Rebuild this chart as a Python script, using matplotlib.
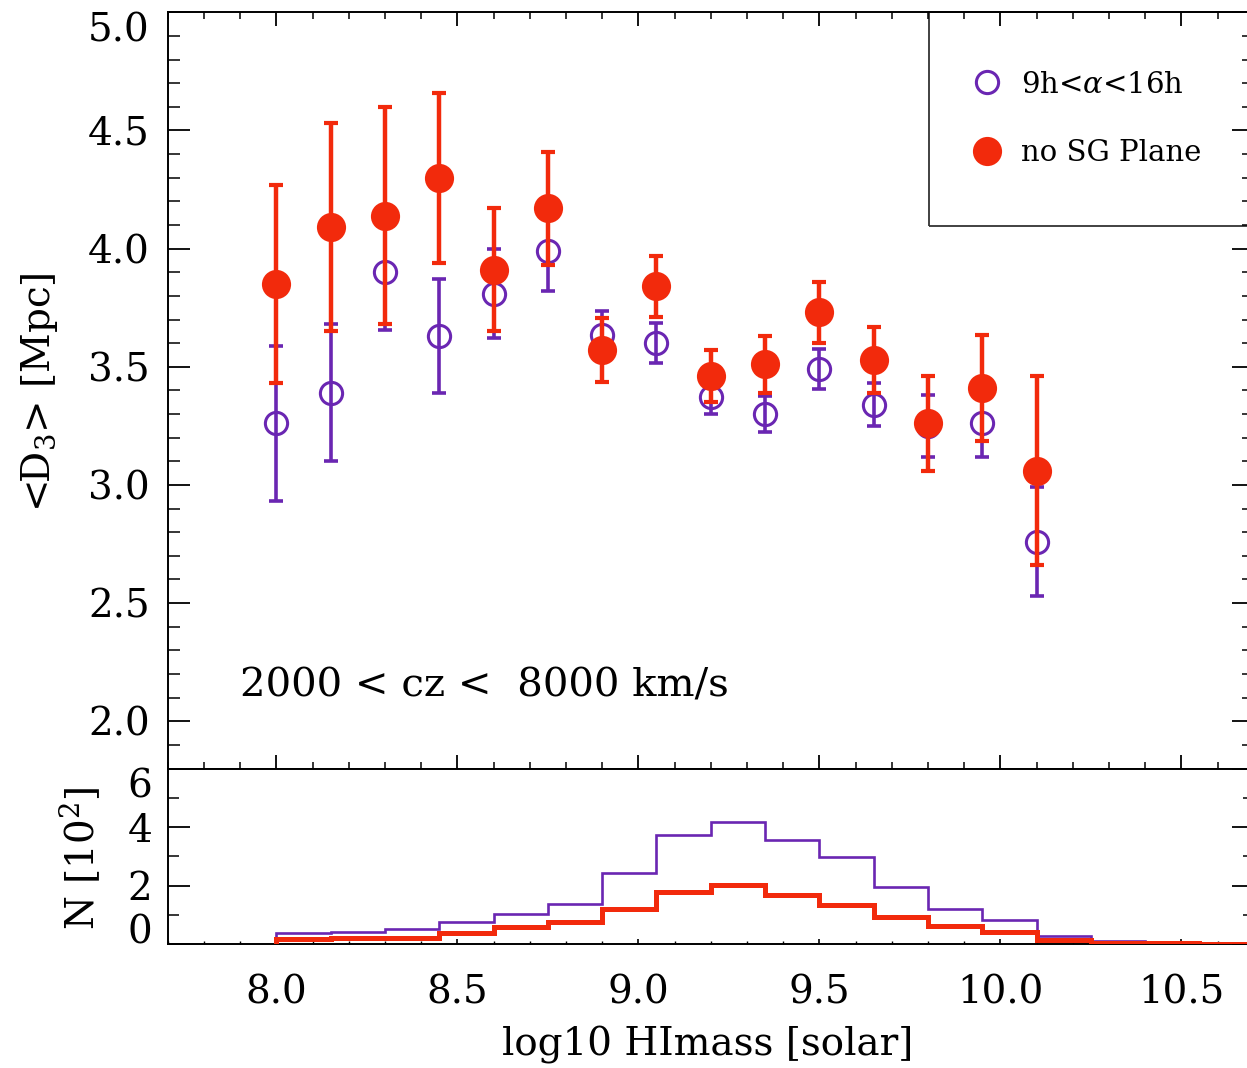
import matplotlib
matplotlib.use('Agg')
import matplotlib.pyplot as plt
from matplotlib.ticker import MultipleLocator
import numpy as np

plt.rcParams['font.family'] = ['DejaVu Serif']
plt.rcParams['mathtext.fontset'] = 'dejavuserif'

# ---------------- data ----------------
log_mass = [8.0, 8.15, 8.3, 8.45, 8.6, 8.75, 8.9, 9.05, 9.2, 9.35, 9.5, 9.65, 9.8, 9.95, 10.1]

ra_cut_d3 = [3.26, 3.39, 3.90, 3.63, 3.81, 3.99, 3.635, 3.60, 3.37, 3.30, 3.49, 3.34, 3.25, 3.26, 2.76]
ra_cut_err = [0.33, 0.29, 0.245, 0.24, 0.19, 0.17, 0.10, 0.085, 0.07, 0.075, 0.085, 0.09, 0.13, 0.14, 0.23]

nosg_d3 = [3.85, 4.09, 4.14, 4.30, 3.91, 4.17, 3.57, 3.84, 3.46, 3.51, 3.73, 3.53, 3.26, 3.41, 3.06]
nosg_err = [0.42, 0.44, 0.46, 0.36, 0.26, 0.24, 0.135, 0.13, 0.11, 0.12, 0.13, 0.14, 0.20, 0.225, 0.40]

hist_edges = [8.0, 8.15, 8.3, 8.45, 8.6, 8.75, 8.9, 9.05, 9.2, 9.35, 9.5, 9.65,
              9.8, 9.95, 10.1, 10.25, 10.4, 10.55, 10.7]
ra_cut_counts = [0.36, 0.42, 0.51, 0.76, 1.04, 1.38, 2.43, 3.72, 4.17, 3.56, 2.96, 1.94,
                 1.21, 0.81, 0.28, 0.10, 0.05, 0.02]
nosg_counts = [0.16, 0.19, 0.21, 0.38, 0.59, 0.76, 1.18, 1.77, 2.02, 1.69, 1.34, 0.93,
               0.61, 0.42, 0.14, 0.03, 0.02, 0.01]

label_ra = r'9h<$\alpha$<16h'
label_nosg = 'no SG Plane'
annotation = '2000 < cz <  8000 km/s'

PURPLE = '#6A26B2'
RED = '#F22A0C'

# ---------------- layout ----------------
W, H = 1247, 1068
fig = plt.figure(figsize=(W / 100, H / 100), dpi=100)


def rect(l, t, r, b):
    return [l / W, 1 - b / H, (r - l) / W, (b - t) / H]


ax = fig.add_axes(rect(167.7, 12.3, 1253.7, 768.5))
ax2 = fig.add_axes(rect(167.7, 768.5, 1253.7, 944.0))

# ---------------- top panel ----------------
ax.errorbar(log_mass, ra_cut_d3, yerr=ra_cut_err, fmt='none', ecolor=PURPLE,
            elinewidth=2.6, capsize=5.0, capthick=2.6, zorder=2)
h1, = ax.plot(log_mass, ra_cut_d3, 'o', ms=16, mfc='none', mec=PURPLE, mew=2.2,
              label=label_ra, zorder=3)
ax.errorbar(log_mass, nosg_d3, yerr=nosg_err, fmt='none', ecolor=RED,
            elinewidth=3.2, capsize=4.8, capthick=3.0, zorder=4)
h2, = ax.plot(log_mass, nosg_d3, 'o', ms=21, mfc=RED, mec=RED, mew=0,
              label=label_nosg, zorder=5)

ax.set_xlim(7.7, 10.7)
ax.set_ylim(1.8, 5.0)
ax.xaxis.set_major_locator(MultipleLocator(0.5))
ax.xaxis.set_minor_locator(MultipleLocator(0.1))
ax.yaxis.set_major_locator(MultipleLocator(0.5))
ax.yaxis.set_minor_locator(MultipleLocator(0.1))
ax.tick_params(axis='x', which='major', direction='in', length=10, width=1.3,
               top=True, bottom=True, labelbottom=False)
ax.tick_params(axis='x', which='minor', direction='in', length=5, width=1.1,
               top=True, bottom=True)
ax.tick_params(axis='y', which='major', direction='in', length=16, width=1.3,
               left=True, right=True, labelsize=28, pad=13)
ax.tick_params(axis='y', which='minor', direction='in', length=8.5, width=1.1,
               left=True, right=True)
for s in ax.spines.values():
    s.set_linewidth(1.4)
ax.set_yticks([2.0, 2.5, 3.0, 3.5, 4.0, 4.5, 5.0])
ax.set_yticklabels(['2.0', '2.5', '3.0', '3.5', '4.0', '4.5', '5.0'])
ax.get_yticklabels()[-1].set_va('top')

ax.set_ylabel(r'<D$_3$> [Mpc]', fontsize=28, va='center')
ax.yaxis.set_label_coords(-0.1176, 0.498)

ax.text(7.9, 2.15, annotation, fontsize=29, va='center', ha='left')

leg = ax.legend(handles=[h1, h2], loc='upper left',
                bbox_to_anchor=((929 - 167.7) / 1086, 1.0), borderaxespad=0,
                fontsize=21, frameon=True, fancybox=False, edgecolor='black',
                borderpad=2.0, labelspacing=1.4, handlelength=0.0,
                handletextpad=1.15)
leg.get_frame().set_facecolor('none')
leg.get_frame().set_linewidth(1.3)

# ---------------- bottom panel ----------------
ax2.stairs(ra_cut_counts, hist_edges, baseline=0, color=PURPLE, linewidth=1.9, zorder=2)
ax2.stairs(nosg_counts, hist_edges, baseline=0, color=RED, linewidth=3.6, zorder=3)

ax2.set_xlim(7.7, 10.7)
ax2.set_ylim(0, 6)
ax2.xaxis.set_major_locator(MultipleLocator(0.5))
ax2.xaxis.set_minor_locator(MultipleLocator(0.1))
ax2.set_yticks([0, 2, 4, 6])
ax2.set_yticklabels(['0', '2', '4', '6'])
ax2.yaxis.set_minor_locator(MultipleLocator(1))
ax2.tick_params(axis='x', which='major', direction='in', length=3.5, width=1.2,
                top=False, bottom=True, labelsize=28, pad=22)
ax2.tick_params(axis='x', which='minor', direction='in', length=2.5, width=1.0,
                top=False, bottom=True)
ax2.tick_params(axis='y', which='major', direction='in', length=16, width=1.3,
                left=True, right=True, labelsize=28, pad=11)
ax2.tick_params(axis='y', which='minor', direction='in', length=8, width=1.1,
                left=True, right=True)
for s in ax2.spines.values():
    s.set_linewidth(1.4)
ylabs = ax2.get_yticklabels()
ylabs[0].set_va('baseline')
ylabs[-1].set_va('top')

ax2.set_xlabel('log10 HImass [solar]', fontsize=28, va='center')
ax2.xaxis.set_label_coords(0.4975, -0.5755)
ax2.set_ylabel(r'N [10$^2$]', fontsize=28, va='center')
ax2.yaxis.set_label_coords(-0.0808, 0.49)

fig.savefig('out.png', dpi=100)
